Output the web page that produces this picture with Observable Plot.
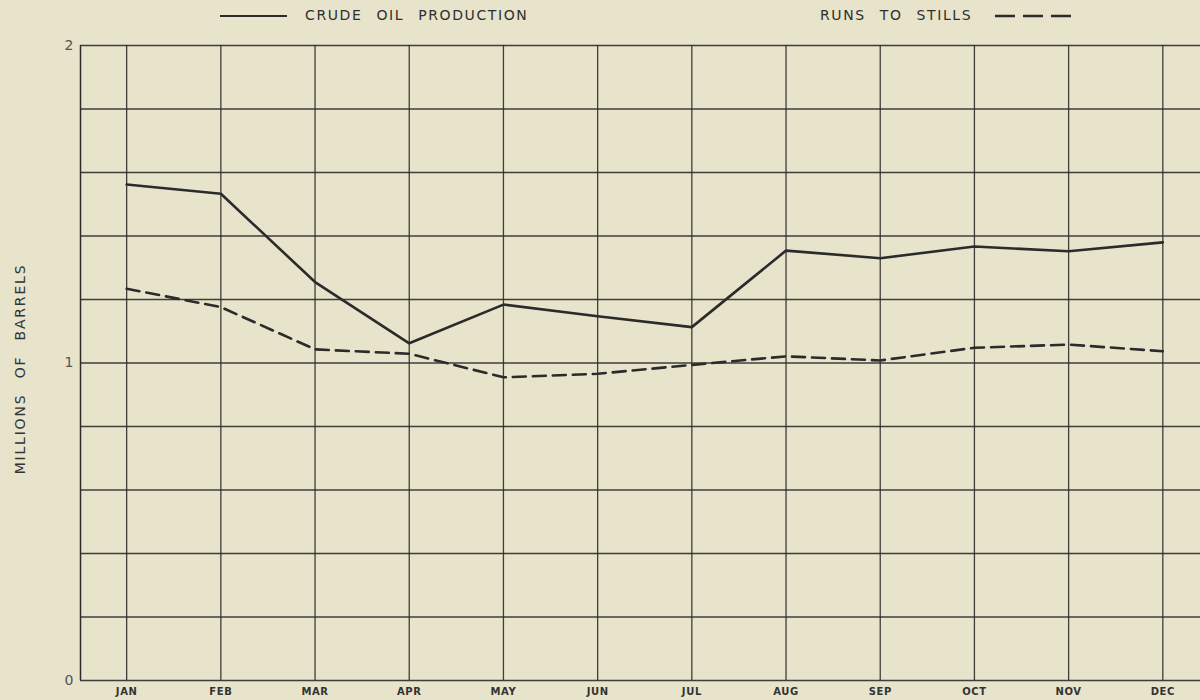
<!DOCTYPE html>
<html>
<head>
<meta charset="utf-8">
<script src="https://cdn.jsdelivr.net/npm/d3@7"></script>
<script src="https://cdn.jsdelivr.net/npm/@observablehq/plot@0.6"></script>
<style>
  html, body { margin: 0; padding: 0; background: #e8e3cb; }
  body { width: 1200px; height: 700px; overflow: hidden; font-family: "DejaVu Sans", "Liberation Sans", sans-serif; }
  #legend { position: relative; width: 1200px; height: 35px; }
  #legend .txt { position: absolute; top: 7px; font-size: 14px; letter-spacing: 1.6px; word-spacing: 8px; color: #2f2f2f; }
  #legend svg { position: absolute; }
</style>
</head>
<body>
<div id="legend">
  <svg style="left:220px;top:10px" width="70" height="12"><line x1="0" y1="6" x2="67" y2="6" stroke="#2b2b2b" stroke-width="2.2"/></svg>
  <div class="txt" style="left:305px">CRUDE OIL PRODUCTION</div>
  <div class="txt" style="left:820px">RUNS TO STILLS</div>
  <svg style="left:995px;top:10px" width="80" height="12"><line x1="0" y1="6" x2="76" y2="6" stroke="#2b2b2b" stroke-width="2.6" stroke-dasharray="20,8"/></svg>
</div>
<div id="chart"></div>
<script>
const months = ["JAN","FEB","MAR","APR","MAY","JUN","JUL","AUG","SEP","OCT","NOV","DEC"];
const crudeOil = [1.562, 1.533, 1.255, 1.062, 1.184, 1.147, 1.113, 1.354, 1.330, 1.367, 1.352, 1.380];
const runsToStills = [1.234, 1.176, 1.043, 1.029, 0.955, 0.966, 0.994, 1.021, 1.008, 1.048, 1.058, 1.037];
const yTickLabels = [0, 1, 2];
const yGrid = [0, 0.2, 0.4, 0.6, 0.8, 1.0, 1.2, 1.4, 1.6, 1.8, 2.0];
const xDomain = [-0.49, 11.4];
const yLabel = "MILLIONS OF BARRELS";

const idx = months.map((m, i) => i);
const crudeData = months.map((m, i) => ({i, v: crudeOil[i]}));
const runsData = months.map((m, i) => ({i, v: runsToStills[i]}));

const ink = "#2b2b2b";

const chart = Plot.plot({
  width: 1200,
  height: 665,
  marginTop: 10,
  marginBottom: 20,
  marginLeft: 80,
  marginRight: 0,
  style: {background: "transparent", fontFamily: "DejaVu Sans, Liberation Sans, sans-serif", color: "#333"},
  x: {type: "linear", domain: xDomain},
  y: {type: "linear", domain: [0, 2]},
  marks: [
    Plot.ruleY(yGrid, {stroke: ink, strokeWidth: 1.3, strokeOpacity: 0.9}),
    Plot.ruleX(idx, {stroke: ink, strokeWidth: 1.3, strokeOpacity: 0.9}),
    Plot.ruleX([xDomain[0]], {stroke: ink, strokeWidth: 1.5}),
    Plot.axisY({ticks: yTickLabels, tickSize: 0, tickPadding: 7, fontSize: 14, label: null, tickFormat: d3.format("d"), fill: "#555"}),
    Plot.axisX({ticks: idx, tickSize: 0, tickPadding: 7, fontSize: 10, fontWeight: "bold", label: null, tickFormat: i => months[i]}),
    Plot.text([yLabel], {frameAnchor: "left", textAnchor: "middle", rotate: -90, dx: -60, dy: 6, fontSize: 14, fill: "#333"}),
    Plot.line(runsData, {x: "i", y: "v", stroke: ink, strokeWidth: 2.6, strokeDasharray: "13,7"}),
    Plot.line(crudeData, {x: "i", y: "v", stroke: ink, strokeWidth: 2.6})
  ]
});
d3.select(chart).selectAll("text").filter(function () { return this.textContent === yLabel; })
  .style("letter-spacing", "1.8px").style("word-spacing", "9px");
d3.select(chart).selectAll("text").filter(function () { return months.includes(this.textContent); })
  .style("letter-spacing", "0.6px");
document.getElementById("chart").appendChild(chart);
</script>
</body>
</html>
